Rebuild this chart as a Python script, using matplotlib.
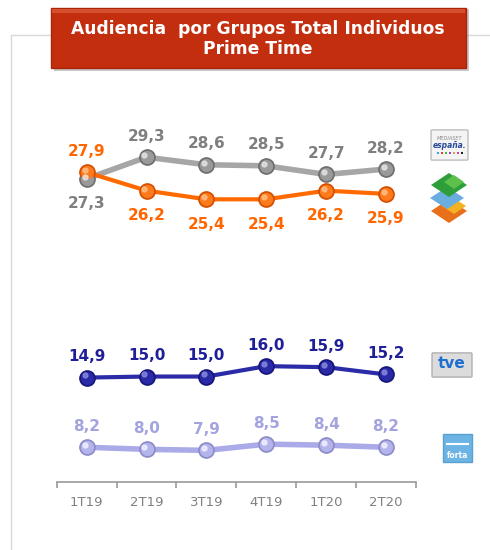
import matplotlib
matplotlib.use("Agg")
import matplotlib.pyplot as plt
from matplotlib.patches import Rectangle, Polygon, FancyBboxPatch
from matplotlib.lines import Line2D
import matplotlib.transforms as mtrans

# datos
periodos = ["1T19", "2T19", "3T19", "4T19", "1T20", "2T20"]
mediaset = [27.3, 29.3, 28.6, 28.5, 27.7, 28.2]
atresmedia = [27.9, 26.2, 25.4, 25.4, 26.2, 25.9]
tve = [14.9, 15.0, 15.0, 16.0, 15.9, 15.2]
forta = [8.2, 8.0, 7.9, 8.5, 8.4, 8.2]

W, H = 490, 550
fig = plt.figure(figsize=(4.9, 5.5), dpi=100)
fig.patch.set_facecolor("white")

def fx(px):
    return px / W

def fy(py):
    return 1 - py / H

# marco gris claro
fig.add_artist(Line2D([fx(11), fx(490)], [fy(35), fy(35)], color="#d9d9d9", lw=1, zorder=1))
fig.add_artist(Line2D([fx(11), fx(11)], [fy(35), fy(550)], color="#d9d9d9", lw=1, zorder=1))

# dos ejes (eje partido) con la misma escala aprox
left, width = fx(56.7), fx(416) - fx(56.7)
ax_top = fig.add_axes([left, fy(240), width, (240 - 110) / H])
ax_bot = fig.add_axes([left, fy(482.3), width, (482.3 - 300) / H])
ax_top.set_ylim(21.63, 33.67)
ax_bot.set_ylim(4.83, 22.36)

x = list(range(len(periodos)))


def serie(ax, vals, line_c, dark_c, mid_c, hi_c, txt_c, lw, pos):
    ax.plot(x, vals, color=line_c, lw=lw, solid_capstyle="round", zorder=2)
    ax.plot(x, vals, "o", ms=11, color=dark_c, mec=dark_c, zorder=3)
    ax.plot(x, vals, "o", ms=8.5, color=mid_c, mec=mid_c, zorder=4)
    tr = mtrans.offset_copy(ax.transData, fig=fig, x=-1.5, y=1.5, units="points")
    ax.plot(x, vals, "o", ms=3.5, color=hi_c, mec=hi_c, alpha=0.8, transform=tr, zorder=5)
    for xi, v, p in zip(x, vals, pos):
        dy = 21 if p == "up" else -25
        ax.annotate(f"{v:.1f}".replace(".", ","), (xi, v), xytext=(0, dy),
                    textcoords="offset pixels", ha="center", va="center",
                    fontsize=11, fontweight="bold", color=txt_c, zorder=6)


serie(ax_top, mediaset, "#a6a6a6", "#6e6e6e", "#9a9a9a", "#e6e6e6", "#7f7f7f", 4,
      ["down", "up", "up", "up", "up", "up"])
serie(ax_top, atresmedia, "#ff6a00", "#d44e00", "#ff7a1a", "#ffc08a", "#ff6600", 3,
      ["up", "down", "down", "down", "down", "down"])
serie(ax_bot, tve, "#2b2ba8", "#16167a", "#2a2aa6", "#8a8ae0", "#1f1f99", 3,
      ["up"] * 6)
serie(ax_bot, forta, "#aaaae8", "#8c8cc8", "#b4b4ec", "#f2f2ff", "#a3a3e0", 4,
      ["up"] * 6)

for ax in (ax_top, ax_bot):
    ax.set_xlim(-0.5, len(periodos) - 0.5)
    ax.set_facecolor("none")
    for s in ("top", "right", "left"):
        ax.spines[s].set_visible(False)
    ax.set_yticks([])

ax_top.spines["bottom"].set_visible(False)
ax_top.set_xticks([])

ax_bot.spines["bottom"].set_color("#999999")
ax_bot.spines["bottom"].set_linewidth(1.2)
ax_bot.set_xticks([i + 0.5 for i in range(-1, len(periodos))], minor=True)
ax_bot.set_xticks(x)
ax_bot.set_xticklabels(periodos, fontsize=9.5, color="#808080")
ax_bot.tick_params(axis="x", which="major", length=0, pad=10)
ax_bot.tick_params(axis="x", which="minor", length=4, width=1.2, color="#999999")

# titulo
fig.add_artist(Rectangle((fx(54), fy(71)), fx(466) - fx(51), (62 / H),
                         transform=fig.transFigure, color="#8a8a8a", alpha=0.45, lw=0,
                         zorder=5))
fig.add_artist(Rectangle((fx(51), fy(68)), fx(466) - fx(51), (60 / H),
                         transform=fig.transFigure, facecolor="#c32e0f",
                         edgecolor="#a82509", lw=1, zorder=6))
fig.add_artist(Rectangle((fx(52), fy(13)), fx(465) - fx(52), (4 / H),
                         transform=fig.transFigure, facecolor="#d6502e", lw=0, zorder=6))
fig.text(fx(258), fy(29), "Audiencia  por Grupos Total Individuos", ha="center", va="center",
         fontsize=12.3, fontweight="bold", color="white", zorder=7)
fig.text(fx(258), fy(49), "Prime Time", ha="center", va="center",
         fontsize=12.3, fontweight="bold", color="white", zorder=7)

# logos simplificados
fig.add_artist(FancyBboxPatch((fx(432), fy(159)), fx(35), 28 / H, boxstyle="round,pad=0.002",
                              transform=fig.transFigure, fc="#f4f4f4", ec="#bdbdbd", lw=1))
fig.text(fx(449.5), fy(138), "MEDIASET", ha="center", va="center", fontsize=3.6,
         color="#8a8a8a", style="italic")
fig.text(fx(449.5), fy(146), "españa.", ha="center", va="center", fontsize=5.5,
         color="#2a4a9a", style="italic", fontweight="bold")
dot_cols = ["#3aa0e0", "#e03a3a", "#3ac03a", "#a03ae0", "#e0a03a", "#e03aa0", "#222222"]
for i, c in enumerate(dot_cols):
    fig.add_artist(Rectangle((fx(437 + i * 4), fy(154)), fx(2.2), 2.2 / H,
                             transform=fig.transFigure, color=c, lw=0))

def diamante(cx, cy, w, h, c):
    pts = [(fx(cx), fy(cy - h / 2)), (fx(cx + w / 2), fy(cy)),
           (fx(cx), fy(cy + h / 2)), (fx(cx - w / 2), fy(cy))]
    fig.add_artist(Polygon(pts, closed=True, transform=fig.transFigure, color=c, lw=0))

diamante(449, 211, 36, 24, "#e8701a")
diamante(454, 206, 24, 16, "#f2b224")
diamante(447, 198, 34, 22, "#6aaee0")
diamante(449, 185, 36, 24, "#2e9e3a")
diamante(454, 182, 20, 14, "#5cc04a")

fig.add_artist(FancyBboxPatch((fx(433), fy(376)), fx(38), 22 / H, boxstyle="round,pad=0.002",
                              transform=fig.transFigure, fc="#dcdcdc", ec="#b0b0b0", lw=1))
fig.text(fx(452), fy(364), "tve", ha="center", va="center", fontsize=11,
         color="#1e6fd0", fontweight="bold")

fig.add_artist(Rectangle((fx(443), fy(462)), fx(29), 28 / H,
                         transform=fig.transFigure, fc="#6cb4e4", ec="#5aa0d0", lw=1))
fig.text(fx(457.5), fy(455), "forta", ha="center", va="center", fontsize=5.5,
         color="white", fontweight="bold")
fig.add_artist(Line2D([fx(447), fx(468)], [fy(444), fy(444)], color="white", lw=1.5))

fig.savefig("out.png", dpi=100)
